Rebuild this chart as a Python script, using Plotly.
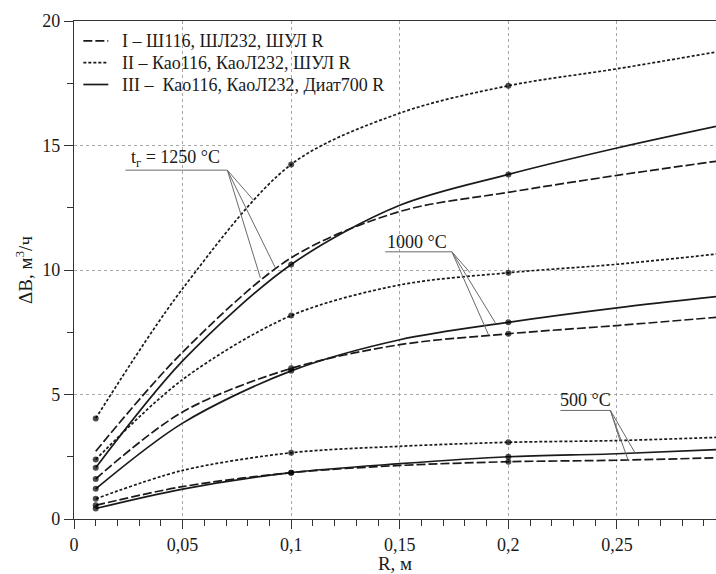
import plotly.graph_objects as go

# Radius, m
R = [0.01, 0.05, 0.10, 0.15, 0.20, 0.25, 0.30]

# Air flow increase ΔB, m³/h, for each lining type (I, II, III) and gas temperature
dB_I_1250 = [2.72, 6.70, 10.49, 12.35, 13.12, 13.80, 14.42]
dB_II_1250 = [4.04, 9.25, 14.24, 16.30, 17.40, 18.08, 18.82]
dB_III_1250 = [2.06, 6.35, 10.22, 12.60, 13.84, 14.90, 15.85]

dB_I_1000 = [1.61, 4.30, 6.05, 7.00, 7.44, 7.77, 8.13]
dB_II_1000 = [2.39, 5.60, 8.17, 9.40, 9.89, 10.23, 10.68]
dB_III_1000 = [1.21, 3.85, 5.95, 7.20, 7.90, 8.48, 8.97]

dB_I_500 = [0.55, 1.30, 1.86, 2.15, 2.30, 2.36, 2.47]
dB_II_500 = [0.81, 1.95, 2.66, 2.92, 3.08, 3.15, 3.29]
dB_III_500 = [0.42, 1.20, 1.86, 2.22, 2.50, 2.62, 2.80]

legend_labels = [
    "I – Ш116, ШЛ232, ШУЛ R",
    "II – Као116, КаоЛ232, ШУЛ R",
    "III –  Као116, КаоЛ232, Диат700 R",
]
x_tick_vals = [0, 0.05, 0.10, 0.15, 0.20, 0.25]
x_tick_text = ["0", "0,05", "0,1", "0,15", "0,2", "0,25"]
y_tick_vals = [0, 5, 10, 15, 20]

INK = "#1a1a1a"
FONT = "Liberation Serif"
DASH = {"I": "9px,3px", "II": "3px,2px", "III": "solid"}
# measured points are marked at R = 0.01, 0.1 and 0.2
MARK = [6, 0, 6, 0, 6, 0, 0]
NOMARK = [0] * len(R)

fig = go.Figure()


def add_curve(y, kind, marked=True):
    fig.add_trace(go.Scatter(
        x=R, y=y, mode="lines+markers",
        line=dict(color=INK, width=1.7, dash=DASH[kind], shape="spline", smoothing=0.9),
        marker=dict(color="black", size=MARK if marked else NOMARK, line=dict(width=0)),
        showlegend=False, hoverinfo="skip",
    ))


add_curve(dB_I_1250, "I", marked=False)
add_curve(dB_II_1250, "II")
add_curve(dB_III_1250, "III")
add_curve(dB_I_1000, "I")
add_curve(dB_II_1000, "II")
add_curve(dB_III_1000, "III")
add_curve(dB_I_500, "I")
add_curve(dB_II_500, "II")
add_curve(dB_III_500, "III")

shapes = []
annotations = []

# legend: line samples and captions
legend_rows = [19.20, 18.33, 17.45]
for kind, yrow, label in zip(["I", "II", "III"], legend_rows, legend_labels):
    shapes.append(dict(type="line", xref="x", yref="y", x0=0.0043, x1=0.0158, y0=yrow, y1=yrow,
                       line=dict(color=INK, width=1.7, dash=DASH[kind])))
    annotations.append(dict(x=0.0214, y=yrow, xref="x", yref="y", text=label, showarrow=False,
                            xanchor="left", yanchor="middle", font=dict(family=FONT, size=18, color=INK)))


def leader(text, x0, x1, y, targets, anchor_x):
    annotations.append(dict(x=anchor_x, y=y, xref="x", yref="y", text=text, showarrow=False,
                            xanchor="center", yanchor="bottom", yshift=-2,
                            font=dict(family=FONT, size=18, color=INK)))
    shapes.append(dict(type="line", xref="x", yref="y", x0=x0, x1=x1, y0=y, y1=y,
                       line=dict(color="#6a6a6a", width=1)))
    for tx, ty in targets:
        shapes.append(dict(type="line", xref="x", yref="y", x0=x1, y0=y, x1=tx, y1=ty,
                           line=dict(color="#6a6a6a", width=1)))


leader("t<sub>г</sub> = 1250 °C", 0.0237, 0.0706, 14.01,
       [(0.0827, 12.80), (0.0927, 10.09), (0.0858, 9.69)], 0.0467)
leader("1000 °C", 0.1433, 0.1740, 10.73,
       [(0.1824, 9.89), (0.1940, 7.88), (0.1908, 7.41)], 0.1580)
leader("500 °C", 0.2240, 0.2470, 4.36,
       [(0.2514, 3.15), (0.2583, 2.66), (0.2551, 2.37)], 0.2355)

axis_common = dict(
    showline=True, linecolor="#333", linewidth=1.2,
    showgrid=True, gridcolor="#a8a8a8", griddash="dot", gridwidth=1,
    ticks="outside", ticklen=9, tickwidth=1, tickcolor="#333",
    zeroline=False,
    tickfont=dict(family=FONT, size=18, color=INK),
)

fig.update_layout(
    width=716, height=574,
    margin=dict(l=74, r=0, t=21, b=55, autoexpand=False),
    paper_bgcolor="white", plot_bgcolor="white",
    shapes=shapes, annotations=annotations,
    xaxis=dict(
        **axis_common, range=[0, 0.2956], tickvals=x_tick_vals, ticktext=x_tick_text,
        mirror=True,
        minor=dict(dtick=0.01, tick0=0, ticks="outside", ticklen=6, tickcolor="#333", showgrid=False),
        title=dict(text="R, м", font=dict(family=FONT, size=19, color=INK), standoff=0),
    ),
    yaxis=dict(
        **axis_common, range=[0, 20], tickvals=y_tick_vals,
        minor=dict(dtick=2.5, tick0=0, ticks="outside", ticklen=6, tickcolor="#333", showgrid=False),
        title=dict(text="ΔB, м<sup>3</sup>/ч", font=dict(family=FONT, size=19, color=INK), standoff=4),
    ),
)

fig.write_html("out.html")
